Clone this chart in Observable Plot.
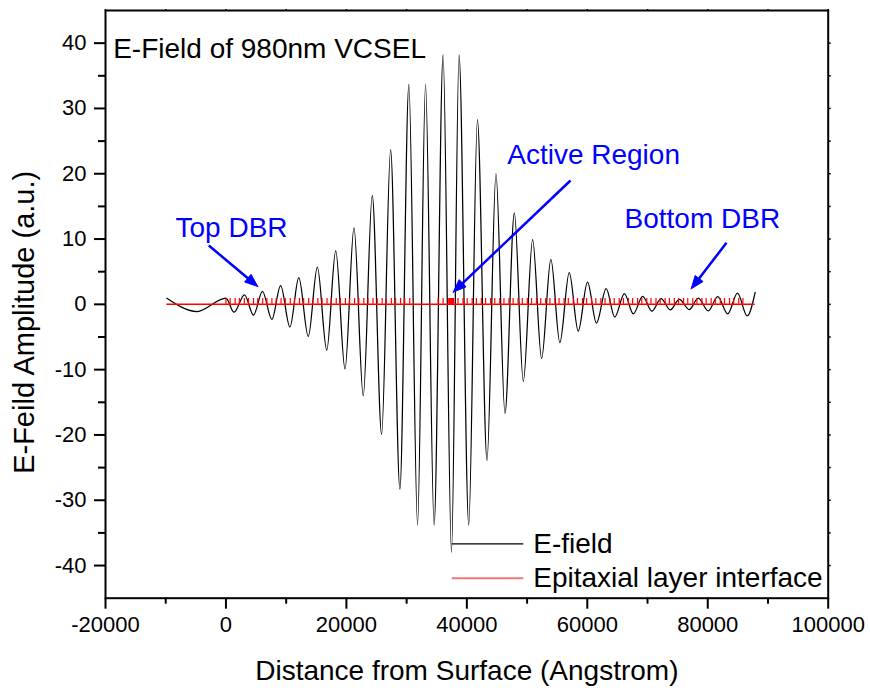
<!DOCTYPE html>
<html>
<head>
<meta charset="utf-8">
<script src="https://cdn.jsdelivr.net/npm/d3@7"></script>
<script src="https://cdn.jsdelivr.net/npm/@observablehq/plot@0.6"></script>
<style>
  html, body { margin: 0; padding: 0; background: #fff; }
  #chart svg { display: block; }
</style>
</head>
<body>
<div id="chart"></div>
<script>
// Standing-wave E-field: successive extrema (position in Angstrom, amplitude in a.u.)
const efieldX = [-9800, -4800, 0, 1342, 3082, 4573, 6065, 7622, 9080, 10621, 12096, 13670, 15178, 16736,
  18227, 19768, 21259, 22800, 24292, 25849, 27341, 28881, 30373, 31815, 33140, 34565, 36056, 37448, 38707,
  40315, 41756, 43347, 44838, 46330, 47887, 49379, 50920, 52411, 53952, 55443, 57001, 58492, 60033, 61525,
  63132, 64557, 66164, 67639, 69197, 70721, 72245, 73787, 75278, 76935, 78426, 80083, 81657, 83314, 84938,
  86545, 87870];
const efieldY = [0.95, -1.1, 0.95, -1.2, 1.45, -1.65, 2.0, -2.3, 2.85, -3.47, 4.1, -4.9, 5.7, -7.0,
  8.2, -9.9, 11.7, -14.0, 16.7, -19.9, 23.7, -28.3, 33.7, -33.8, 33.7, -33.8, 38.2, -38.0, 38.2,
  -33.8, 28.3, -23.9, 20.0, -16.7, 14.0, -11.8, 9.9, -8.3, 6.9, -5.85, 4.85, -4.1, 3.4, -2.86,
  2.4, -1.94, 1.64, -1.45, 1.22, -1.05, 0.87, -0.85, 0.75, -0.8, 0.95, -1.0, 1.2, -1.45, 1.7,
  -1.78, 1.85];

// Epitaxial layer interfaces (Angstrom): top DBR, cavity, active region, bottom DBR
const topDBR = [0, 696, 1526, 2222, 3052, 3748, 4578, 5274, 6104, 6800, 7630, 8326, 9156, 9852, 10682,
  11378, 12208, 12904, 13734, 14430, 15260, 15956, 16786, 17482, 18312, 19008, 19838, 20534, 21364, 22060,
  22890, 23586, 24416, 25112, 25942, 26638, 27468, 28164, 28994, 29690, 30520];
const cavity = [35230, 36060];
const activeRegion = [37000, 37080, 37160, 37240, 37320, 37400, 37480, 37560, 37640, 37720, 37800];
const bottomDBR = [38530, 39360, 40056, 40886, 41582, 42412, 43108, 43938, 44634, 45464, 46160, 46990,
  47686, 48516, 49212, 50042, 50738, 51568, 52264, 53094, 53790, 54620, 55316, 56146, 56842, 57672, 58368,
  59198, 59894, 60724, 61420, 62250, 62946, 63776, 64472, 65302, 65998, 66828, 67524, 68354, 69050, 69880,
  70576, 71406, 72102, 72932, 73628, 74458, 75154, 75984, 76680, 77510, 78206, 79036, 79732, 80562, 81258,
  82088, 82784, 83614, 84310, 85140, 85836];
const structureSpan = [-9800, 87870];
const interfaceMark = 0.9;

// Axis ticks
const xTicks = [-20000, 0, 20000, 40000, 60000, 80000, 100000];
const xMinor = [-10000, 10000, 30000, 50000, 70000, 90000];
const yTicks = [-40, -30, -20, -10, 0, 10, 20, 30, 40];
const yMinor = [-35, -25, -15, -5, 5, 15, 25, 35];

// Text
const title = "E-Field of 980nm VCSEL";
const xTitle = "Distance from Surface (Angstrom)";
const yTitle = "E-Feild Amplitude (a.u.)";
const seriesNames = ["E-field", "Epitaxial layer interface"];

// Callouts: label anchor and arrow from (x1,y1) to tip (x2,y2)
const callouts = [
  {text: "Top DBR", tx: -8377, ty: 10.28, x1: -2848, y1: 9.01, x2: 5289, y2: 2.73},
  {text: "Active Region", tx: 46700, ty: 21.42, x1: 57211, y1: 18.97, x2: 37734, y2: 1.86},
  {text: "Bottom DBR", tx: 66177, ty: 11.66, x1: 83113, y1: 9.43, x2: 77252, y2: 2.38}
];

const W = 870, H = 692, mL = 105, mR = 42.3, mT = 10, mB = 94.3;
const xDomain = [-20000, 100000], yDomain = [-45, 45];
const BLUE = "#0000ff";
const font = "'Liberation Sans', Arial, Helvetica, sans-serif";

const efield = efieldX.map((x, i) => ({x, y: efieldY[i]}));
const interfaces = [...topDBR, ...cavity, ...activeRegion, ...bottomDBR];

// Arrowheads are filled triangles built in screen space, then mapped back to data space
const sx = Plot.scale({x: {domain: xDomain, range: [mL, W - mR]}});
const sy = Plot.scale({y: {domain: yDomain, range: [H - mB, mT]}});
const headLen = 13, headHalf = 5;
const heads = [], shafts = [];
callouts.forEach((a, i) => {
  const px0 = sx.apply(a.x1), py0 = sy.apply(a.y1);
  const px1 = sx.apply(a.x2), py1 = sy.apply(a.y2);
  const len = Math.hypot(px1 - px0, py1 - py0);
  const ux = (px1 - px0) / len, uy = (py1 - py0) / len;
  const bx = px1 - ux * headLen, by = py1 - uy * headLen;
  [[px1, py1], [bx - uy * headHalf, by + ux * headHalf], [bx + uy * headHalf, by - ux * headHalf], [px1, py1]]
    .forEach(([x, y]) => heads.push({id: i, x: sx.invert(x), y: sy.invert(y)}));
  shafts.push({x1: a.x1, y1: a.y1, x2: sx.invert(bx + ux * 2), y2: sy.invert(by + uy * 2)});
});

// Legend rows inside the frame, lower right
const legend = [
  {name: seriesNames[0], color: "black", y: -36.67, width: 1.2},
  {name: seriesNames[1], color: "#f27878", y: -41.94, width: 2}
];
const legendX1 = 37568, legendX2 = 49456, legendTextX = 51017;

const chart = Plot.plot({
  width: W, height: H,
  marginLeft: mL, marginRight: mR, marginTop: mT, marginBottom: mB,
  x: {domain: xDomain, label: null},
  y: {domain: yDomain, label: null},
  style: {fontFamily: font, background: "white", color: "black", overflow: "visible"},
  marks: [
    // axes
    Plot.axisX(xMinor, {tickSize: 6, strokeWidth: 2, tickFormat: () => "", label: null}),
    Plot.axisX(xTicks, {tickSize: 11, tickPadding: 7, strokeWidth: 2, fontSize: 22,
      tickFormat: d => String(d), label: null}),
    Plot.axisX([...xTicks, ...xMinor], {anchor: "top", tickSize: 2, strokeWidth: 1.5, tickFormat: () => "", label: null}),
    Plot.axisY(yMinor, {tickSize: 7, strokeWidth: 2, tickFormat: () => "", label: null}),
    Plot.axisY(yTicks, {tickSize: 11, tickPadding: 8, strokeWidth: 2, fontSize: 22,
      tickFormat: d => String(d), label: null}),
    Plot.axisY([...yTicks, ...yMinor], {anchor: "right", tickSize: 2, strokeWidth: 1.5, tickFormat: () => "", label: null}),

    // E-field curve through its extrema
    Plot.line(efield, {x: "x", y: "y", curve: "monotone-x", stroke: "black", strokeWidth: 1.25}),

    // layer interfaces
    Plot.ruleY([0], {x1: structureSpan[0], x2: structureSpan[1], stroke: "red", strokeWidth: 1.5}),
    Plot.ruleX(interfaces, {x: d => d, y1: 0, y2: interfaceMark, stroke: "red", strokeWidth: 1.2}),

    Plot.frame({stroke: "black", strokeWidth: 2}),

    // axis titles and chart title
    Plot.text([xTitle], {frameAnchor: "bottom", dy: 82, lineAnchor: "bottom", fontSize: 28, fill: "black"}),
    Plot.text([yTitle], {frameAnchor: "left", dx: -72, dy: 18, rotate: -90, lineAnchor: "bottom",
      textAnchor: "middle", fontSize: 29, fill: "black"}),
    Plot.text([title], {x: -18722, y: 37.76, textAnchor: "start", lineAnchor: "bottom", fontSize: 28, fill: "black"}),

    // callouts
    Plot.link(shafts, {x1: "x1", y1: "y1", x2: "x2", y2: "y2", stroke: BLUE, strokeWidth: 2.5}),
    Plot.line(heads, {x: "x", y: "y", z: "id", fill: BLUE, stroke: BLUE, strokeWidth: 1}),
    Plot.text(callouts, {x: "tx", y: "ty", text: "text", textAnchor: "start", lineAnchor: "bottom",
      fontSize: 28, fill: BLUE}),

    // legend
    Plot.ruleY(legend, {y: "y", x1: legendX1, x2: legendX2, stroke: d => d.color, strokeWidth: d => d.width}),
    Plot.text(legend, {x: legendTextX, y: d => d.y - 1.38, text: "name", textAnchor: "start",
      lineAnchor: "bottom", fontSize: 28, fill: "black"})
  ]
});

document.getElementById("chart").append(chart);
</script>
</body>
</html>
